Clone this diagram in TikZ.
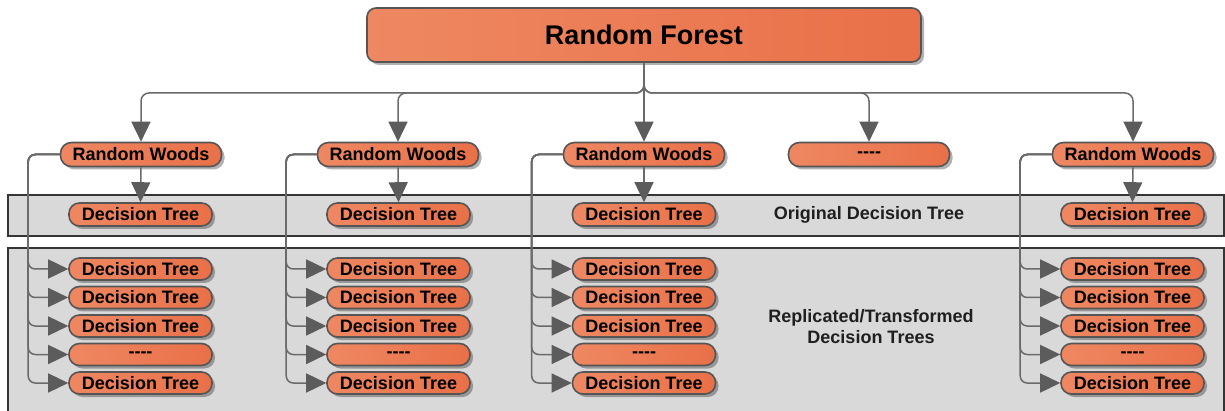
\documentclass[tikz,border=0pt]{standalone}
\usepackage{fontspec}
\setmainfont{Liberation Sans}
\usetikzlibrary{shadows,arrows.meta,calc}
\definecolor{boxL}{HTML}{EE8862}
\definecolor{boxR}{HTML}{E97048}
\definecolor{edge}{HTML}{555555}
\definecolor{conncol}{HTML}{6A6A6A}
\definecolor{arrcol}{HTML}{5C5C5C}
\definecolor{bandcol}{HTML}{D9D9D9}
\definecolor{bandedge}{HTML}{353535}
\newcommand\fourdash{{-}{-}{-}{-}}
\tikzset{
  obox/.style={draw=edge, line width=1.6pt, left color=boxL, right color=boxR,
    inner sep=0pt, text=black, font=\bfseries,
    drop shadow={shadow xshift=3pt, shadow yshift=-3pt, fill=black, opacity=0.3}},
  rfbox/.style={obox, rounded corners=9pt, minimum width=554pt, minimum height=54pt,
    font=\bfseries\fontsize{27}{30}\selectfont},
  rwbox/.style={obox, rounded corners=11pt, minimum width=161pt, minimum height=24pt,
    font=\bfseries\fontsize{18}{20}\selectfont},
  dtbox/.style={obox, rounded corners=10.5pt, minimum width=143pt, minimum height=22pt,
    font=\bfseries\fontsize{18}{20}\selectfont},
  bandbox/.style={draw=bandedge, fill=bandcol, line width=2pt},
  conn/.style={draw=conncol, line width=1.5pt},
  arr/.style={conn, -{Triangle[length=20pt,width=19pt,fill=arrcol,color=arrcol]}},
  lbl/.style={text=black!88, font=\bfseries\fontsize{18}{21}\selectfont, align=center}
}
\begin{document}
\begin{tikzpicture}[x=1pt,y=-1pt]
\useasboundingbox (0,0) rectangle (1225,411);
% bands
\draw[bandbox] (8,195) rectangle (1224,236);
\draw[bandbox] (8,248) rectangle (1224,425);
% top node
\node[rfbox] (rf) at (644,35) {Random Forest};
\coordinate (bus) at (644,93);
% random woods row
\node[rwbox] (rw1) at (141,154.5) {Random Woods};
\node[rwbox] (rw2) at (398,154.5) {Random Woods};
\node[rwbox] (rw3) at (644,154.5) {Random Woods};
\node[rwbox] (rw4) at (869,154.5) {\fourdash};
\node[rwbox] (rw5) at (1133,154.5) {Random Woods};
% connectors from forest
\foreach \i in {1,2,4,5}
  \draw[arr, rounded corners=8pt] (rf.south) -- (bus) -| (rw\i.north);
\draw[arr] (rf.south) -- (rw3.north);
% labels
\node[lbl] (ol) at (869,214.5) {Original Decision Tree};
\node[lbl] (rl) at (871,326.5) {Replicated/Transformed\\Decision Trees};
% decision trees
\foreach \c/\x in {1/140.5,2/398.5,3/644,5/1132.5} {
  \node[dtbox, minimum height=23pt] (o\c) at (\x,214.5) {Decision Tree};
  \draw[arr] (rw\c.south) -- (o\c.north);
  \foreach \r/\t in {1/Decision Tree,2/Decision Tree,3/Decision Tree,4/\fourdash,5/Decision Tree} {
    \node[dtbox] (d\c\r) at (\x,{269+28.5*(\r-1)}) {\t};
    \draw[arr, rounded corners=7pt] (rw\c.west) -| ([xshift=-40pt]d\c\r.west) -- (d\c\r.west);
  }
}
\end{tikzpicture}
\end{document}
